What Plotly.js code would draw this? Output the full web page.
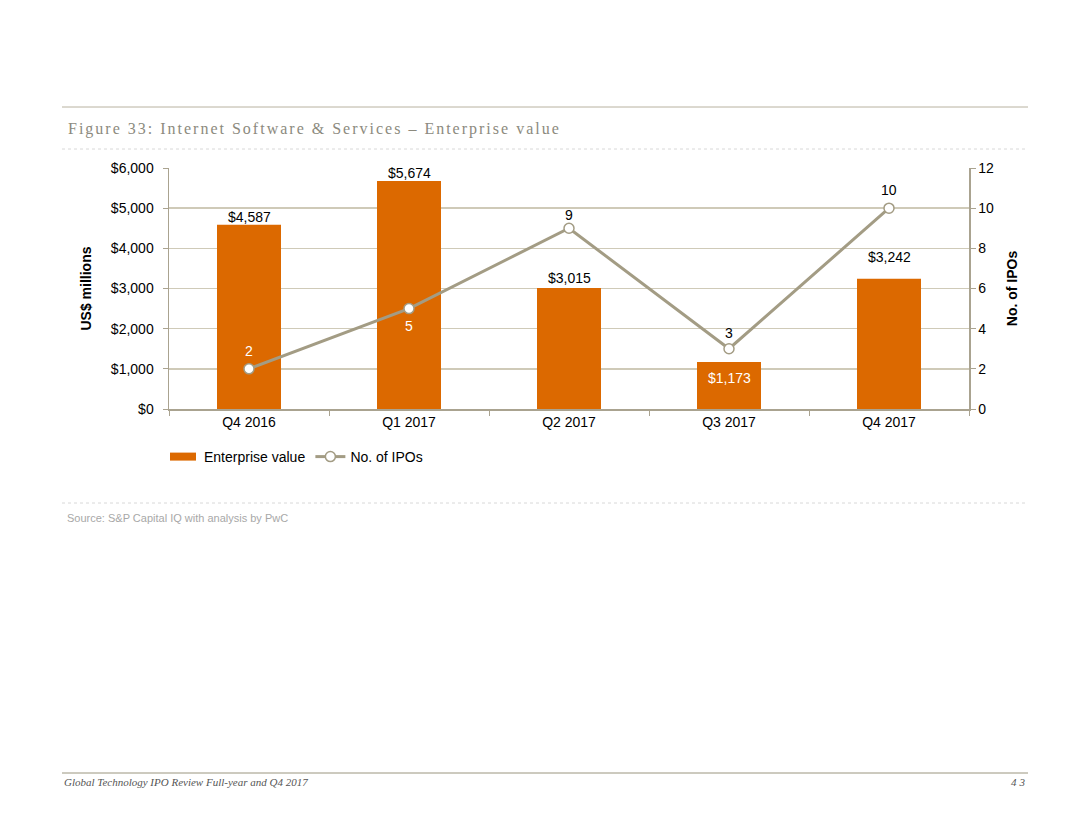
<!DOCTYPE html>
<html>
<head>
<meta charset="utf-8">
<script src="https://cdn.plot.ly/plotly-3.0.1.min.js"></script>
<style>
html,body{margin:0;padding:0;background:#fff;}
#chart{width:1080px;height:835px;}
</style>
</head>
<body>
<div id="chart"></div>
<script>
const categories = ["Q4 2016", "Q1 2017", "Q2 2017", "Q3 2017", "Q4 2017"];
const enterpriseValue = [4587, 5674, 3015, 1173, 3242];
const enterpriseLabels = ["$4,587", "$5,674", "$3,015", "$1,173", "$3,242"];
const ipoCount = [2, 5, 9, 3, 10];
const leftTicks = [0, 1000, 2000, 3000, 4000, 5000, 6000];
const leftTickLabels = ["$0", "$1,000", "$2,000", "$3,000", "$4,000", "$5,000", "$6,000"];
const rightTicks = [0, 2, 4, 6, 8, 10, 12];

const orange = "#dc6900";
const lineCol = "#a39c84";
const gridCol = "#cfcab8";
const axisCol = "#aaa390";
const FONT = "Arial, Liberation Sans, sans-serif";

// plot area in pixels: x 169..969, y 168..409
const L = 169, R = 969, T = 168, B = 409;
const px = x => (x - L) / (R - L);
const py = y => (B - y) / (B - T);

// label placement (data-anchored, shifted in px)
const barLabelShift = [8, 8, 10, -16, 22];   // positive = up from bar top
const barLabelInside = [false, false, false, true, false];
const ipoLabelShift = [18, -17, 13, 16, 18];
const ipoLabelWhite = [true, true, false, false, false];

const annotations = [];
categories.forEach((c, i) => {
  annotations.push({
    x: c, y: enterpriseValue[i], xref: "x", yref: "y",
    text: enterpriseLabels[i], showarrow: false,
    yshift: barLabelShift[i], yanchor: "middle",
    font: {family: FONT, size: 14, color: barLabelInside[i] ? "#ffffff" : "#000000"}
  });
  annotations.push({
    x: c, y: ipoCount[i], xref: "x", yref: "y2",
    text: String(ipoCount[i]), showarrow: false,
    yshift: ipoLabelShift[i], yanchor: "middle",
    font: {family: FONT, size: 14, color: ipoLabelWhite[i] ? "#ffffff" : "#000000"}
  });
});

annotations.push({
  xref: "paper", yref: "paper", x: px(68), y: py(129), xanchor: "left", yanchor: "middle",
  text: "Figure 33: Internet Software & Services – Enterprise value", showarrow: false,
  font: {family: "Liberation Serif, DejaVu Serif, serif", size: 16, color: "#8c8a7e"}
});
annotations.push({
  xref: "paper", yref: "paper", x: px(65), y: py(518), xanchor: "left", yanchor: "middle",
  text: "Source: S&P Capital IQ with analysis by PwC", showarrow: false,
  font: {family: FONT, size: 11, color: "#a8a8a8"}
});
annotations.push({
  xref: "paper", yref: "paper", x: px(62), y: py(782), xanchor: "left", yanchor: "middle",
  text: "<i>Global Technology IPO Review Full-year and Q4 2017</i>", showarrow: false,
  font: {family: "Liberation Serif, DejaVu Serif, serif", size: 11, color: "#555555"}
});
annotations.push({
  xref: "paper", yref: "paper", x: px(1029), y: py(782), xanchor: "right", yanchor: "middle",
  text: "<i>43</i>", showarrow: false,
  font: {family: "Liberation Serif, DejaVu Serif, serif", size: 11, color: "#555555"}
});

const shapes = [
  {type: "line", xref: "paper", yref: "paper", x0: px(62), x1: px(1028), y0: py(107), y1: py(107), line: {color: "#b8b2a0", width: 1}},
  {type: "line", xref: "paper", yref: "paper", x0: px(62), x1: px(1028), y0: py(149), y1: py(149), line: {color: "#d8d8d8", width: 1, dash: "dot"}},
  {type: "line", xref: "paper", yref: "paper", x0: px(62), x1: px(1028), y0: py(503), y1: py(503), line: {color: "#d8d8d8", width: 1, dash: "dot"}},
  {type: "line", xref: "paper", yref: "paper", x0: px(62), x1: px(1028), y0: py(773), y1: py(773), line: {color: "#9a957f", width: 1}}
];

const traces = [
  {
    type: "bar", name: "Enterprise value", x: categories, y: enterpriseValue,
    marker: {color: orange}, width: 0.4, yaxis: "y", hoverinfo: "skip"
  },
  {
    type: "scatter", mode: "lines+markers", name: "No. of IPOs", x: categories, y: ipoCount,
    yaxis: "y2", line: {color: lineCol, width: 3},
    marker: {symbol: "circle", size: 10, color: "#ffffff", line: {color: lineCol, width: 1.5}},
    hoverinfo: "skip"
  }
];

const layout = {
  width: 1080, height: 835,
  margin: {l: L, r: 1080 - R, t: T, b: 835 - B, pad: 0},
  paper_bgcolor: "#ffffff", plot_bgcolor: "#ffffff",
  showlegend: true,
  legend: {
    orientation: "h", x: px(164), y: py(441), xanchor: "left", yanchor: "top",
    font: {family: FONT, size: 14, color: "#000000"},
    itemwidth: 30, tracegroupgap: 0, bgcolor: "rgba(0,0,0,0)"
  },
  bargap: 0.6,
  font: {family: FONT, size: 14, color: "#000000"},
  xaxis: {
    type: "category", showline: true, linecolor: axisCol, linewidth: 1.5,
    ticks: "outside", ticklen: 5, tickcolor: axisCol, tickson: "boundaries",
    showgrid: false, zeroline: false,
    tickfont: {size: 14, color: "#000000"}
  },
  yaxis: {
    range: [0, 6000], tickvals: leftTicks, ticktext: leftTickLabels,
    showline: true, linecolor: axisCol, linewidth: 1.5, ticks: "outside", ticklen: 5, tickcolor: axisCol,
    showgrid: true, gridcolor: gridCol, gridwidth: 1.5, zeroline: false,
    ticklabelstandoff: 6,
    title: {text: "<b>US$ millions</b>", font: {size: 14, color: "#000000"}, standoff: 16},
    tickfont: {size: 14, color: "#000000"}
  },
  yaxis2: {
    range: [0, 12], tickvals: rightTicks, overlaying: "y", side: "right",
    showline: true, linecolor: axisCol, linewidth: 1.5, ticks: "outside", ticklen: 5, tickcolor: axisCol,
    showgrid: false, zeroline: false,
    title: {text: "<b>No. of IPOs</b>", font: {size: 14, color: "#000000"}, standoff: 14},
    tickfont: {size: 14, color: "#000000"}
  },
  annotations: annotations,
  shapes: shapes
};

Plotly.newPlot("chart", traces, layout, {staticPlot: true, displayModeBar: false}).then(() => {
  // letter-spaced texts like the source document, re-aligned to their anchor edges
  document.querySelectorAll(".annotation-text").forEach(t => {
    const s = t.textContent;
    if (s.indexOf("Figure 33") === 0) {
      t.style.letterSpacing = "2px";
      const left = t.getBoundingClientRect().left;
      t.setAttribute("x", parseFloat(t.getAttribute("x") || 0) + (68 - left));
    } else if (s === "43") {
      t.style.letterSpacing = "3px";
      const right = t.getBoundingClientRect().right;
      t.setAttribute("x", parseFloat(t.getAttribute("x") || 0) + (1028 - right));
    }
  });
  // wide rectangular swatch for the bar legend entry
  const pts = document.querySelectorAll(".legend .traces .legendpoints path.legendundefined, .legend .traces .legendbar path");
  pts.forEach(p => p.setAttribute("d", "M12,4H-14V-4H12Z"));
});
</script>
</body>
</html>
